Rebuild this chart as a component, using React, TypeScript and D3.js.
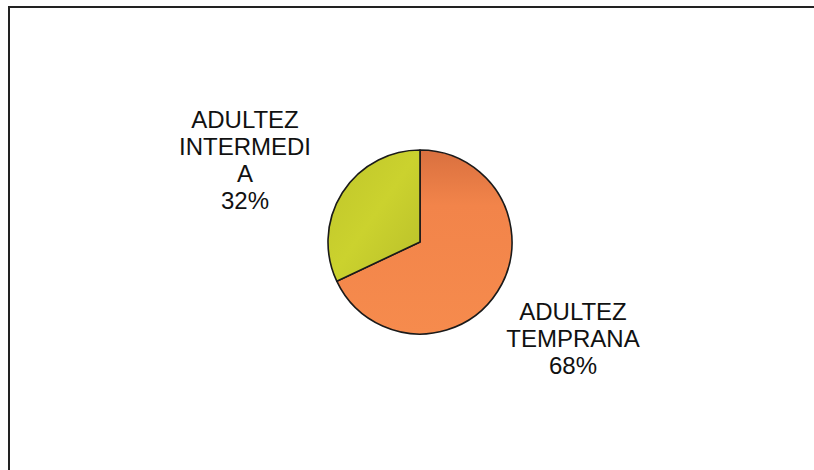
import React from "react";
import * as d3 from "d3";

const categories = ["ADULTEZ TEMPRANA", "ADULTEZ INTERMEDIA"];
const values = [68, 32];
const labelLines = [
  ["ADULTEZ", "TEMPRANA", "68%"],
  ["ADULTEZ", "INTERMEDI", "A", "32%"],
];

export default function App() {
  const W = 814, H = 470;
  const cx = 420, cy = 242, r = 92;
  const pie = d3.pie<number>().sort(null).value((d) => d)(values);
  const arc = d3.arc<d3.PieArcDatum<number>>().innerRadius(0).outerRadius(r);
  const labelPos = [
    { x: 573, y: 320 },
    { x: 245, y: 128 },
  ];
  const lh = 27;
  return (
    <svg width={W} height={H} style={{ position: "absolute", left: 0, top: 0, background: "#fff", overflow: "hidden" }}>
      <defs>
        <linearGradient id="g0" x1="0" y1="0" x2="0" y2="1">
          <stop offset="0" stopColor="#D9703F" />
          <stop offset="0.3" stopColor="#F2844A" />
          <stop offset="1" stopColor="#F68B4D" />
        </linearGradient>
        <linearGradient id="g1" x1="0" y1="0" x2="1" y2="1">
          <stop offset="0" stopColor="#BFC52A" />
          <stop offset="0.5" stopColor="#CBD22E" />
          <stop offset="1" stopColor="#B9BF2A" />
        </linearGradient>
      </defs>
      <line x1={8} y1={7} x2={W} y2={7} stroke="#222" strokeWidth={2} />
      <line x1={9} y1={6} x2={9} y2={H} stroke="#222" strokeWidth={2} />
      <g transform={`translate(${cx},${cy})`}>
        {pie.map((p, i) => (
          <path key={categories[i]} d={arc(p) || ""} fill={`url(#g${i})`} stroke="#1a1a1a" strokeWidth={1.6} strokeLinejoin="round" />
        ))}
      </g>
      {labelLines.map((lines, i) => (
        <text key={i} textAnchor="middle" fontFamily="'Liberation Sans', Arial, sans-serif" fontSize={24} fill="#111">
          {lines.map((t, j) => (
            <tspan key={j} x={labelPos[i].x} y={labelPos[i].y + j * lh}>{t}</tspan>
          ))}
        </text>
      ))}
    </svg>
  );
}
